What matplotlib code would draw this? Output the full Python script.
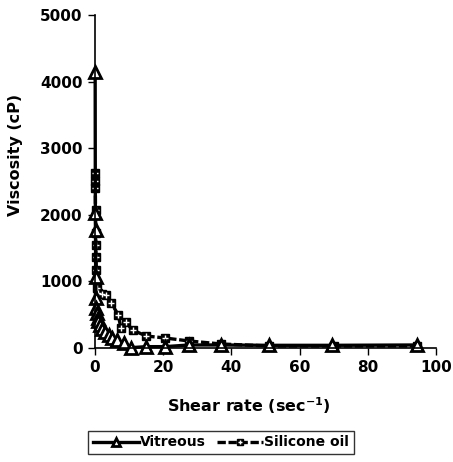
import matplotlib
matplotlib.use("Agg")
from matplotlib import pyplot as plt

# shear rate (1/s) and viscosity (cP)
vit_x = [0.05, 0.1, 0.15, 0.2, 0.3, 0.4, 0.6, 0.8, 1.0, 1.5, 2.0, 3.0, 4.0, 5.0, 6.5, 8.5, 10.6, 15, 20.5, 27.6, 37, 51, 69.5, 94.5]
vit_y = [4150, 2030, 1770, 1070, 750, 600, 520, 450, 400, 340, 290, 240, 190, 150, 120, 75, 5, 20, 20, 45, 45, 40, 40, 45]

sil_x = [0.05, 0.08, 0.1, 0.15, 0.2, 0.25, 0.3, 0.4, 0.6, 1.0, 2.0, 3.2, 4.7, 6.8, 7.6, 9, 11, 15, 20.5, 27.6, 37, 51, 70, 94.5]
sil_y = [2620, 2500, 2400, 2070, 1730, 1550, 1370, 1170, 900, 820, 810, 800, 680, 500, 300, 390, 270, 180, 150, 105, 60, 30, 30, 30]

plt.rcParams['font.family'] = ['DejaVu Sans']
plt.rcParams['font.weight'] = 'bold'

fig = plt.figure(figsize=(4.53, 4.62), dpi=100)
ax = fig.add_axes([0.2097, 0.2468, 0.7528, 0.7208])

l2, = ax.plot(sil_x, sil_y, color='black', lw=2.4, ls=(0, (2.5, 0.8)),
              marker='s', ms=5.5, mfc='black', mec='black', clip_on=False)
p2, = ax.plot(sil_x, sil_y, ls='none', marker='+', ms=5, mew=1, color='white', clip_on=False)
l1, = ax.plot(vit_x, vit_y, color='black', lw=2.4,
              marker='^', ms=8, mfc='white', mec='black', mew=2, clip_on=False)

ax.set_xlim(0, 100)
ax.set_ylim(0, 5000)
ax.set_xticks([0, 20, 40, 60, 80, 100])
ax.set_yticks([0, 1000, 2000, 3000, 4000, 5000])
ax.spines['top'].set_visible(False)
ax.spines['right'].set_visible(False)
ax.spines['left'].set_linewidth(1.2)
ax.spines['bottom'].set_linewidth(1.2)
ax.tick_params(labelsize=11, width=1, length=5, pad=4)
ax.set_xlabel('Shear rate (sec$^{\\mathbf{-1}}$)', fontsize=11.5, fontweight='bold')
ax.set_ylabel('Viscosity (cP)', fontsize=11.5, fontweight='bold')
ax.xaxis.set_label_coords(0.45, -0.142)
ax.yaxis.set_label_coords(-0.212, 0.58)

leg = fig.legend([l1, (l2, p2)], ['Vitreous', 'Silicone oil'], loc='upper center',
                 bbox_to_anchor=(0.488, 0.068), ncol=2, frameon=True, fancybox=False,
                 edgecolor='black', fontsize=10, handlelength=3.3, columnspacing=0.8,
                 borderpad=0.35, handletextpad=0.1, borderaxespad=0, markerscale=0.7)
leg.get_frame().set_linewidth(1.0)

plt.savefig('out.png', dpi=100)
